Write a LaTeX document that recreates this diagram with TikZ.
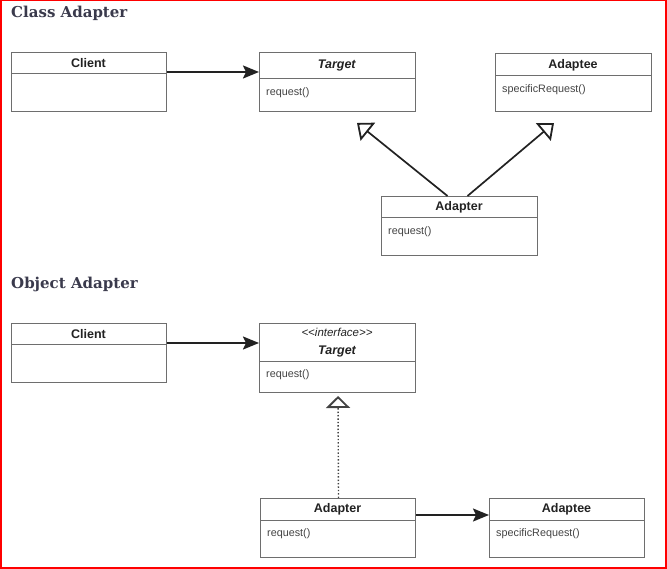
\documentclass[tikz,border=0pt]{standalone}
\usepackage{fontspec}
\setmainfont{Liberation Sans}
\newfontfamily\titlefont{DejaVu Serif}
\usetikzlibrary{arrows.meta}
\definecolor{boxgray}{HTML}{6E6E6E}
\definecolor{titlecol}{HTML}{3A3A4C}
\definecolor{ink}{HTML}{222222}
\tikzset{
  umlbox/.style={draw=boxgray, line width=1pt, rectangle, inner sep=0pt, anchor=north west},
  divider/.style={draw=boxgray, line width=1pt},
  headtext/.style={font=\fontsize{12.5}{14}\selectfont\bfseries, text=ink, inner sep=0pt},
  bodytext/.style={font=\fontsize{10.8}{12}\selectfont, text=ink!85, inner sep=0pt, anchor=west},
  titletext/.style={font=\titlefont\fontsize{15}{17}\selectfont\bfseries, text=titlecol, inner sep=0pt, anchor=base west},
  assoc/.style={draw=ink, line width=2pt, -{Stealth[length=16pt,width=13pt,inset=3pt]}},
  inherit/.style={draw=ink, line width=1.7pt, -{Triangle[open,length=14pt,width=23pt,fill=white,line width=1.8pt]}},
  realize/.style={draw=ink!85, line width=1.4pt, dash pattern=on 1.4pt off 2pt, -{Triangle[open,length=12pt,width=24pt,fill=white,line width=1.8pt]}},
}
% name, x1, y1, x2, y2, divider y, header, body
\newcommand\umlclass[8]{%
  \node[umlbox, minimum width=#4pt-#2pt, minimum height=#5pt-#3pt] (#1) at (#2,#3) {};
  \draw[divider] (#2,#6) -- (#4,#6);
  \node[headtext] (#1-head) at ({(#2+#4)/2},{(#3+#6)/2+0.5}) {#7};
  \node[bodytext] (#1-body) at ({#2+7},{#6+13.5}) {#8};
}
\begin{document}
\begin{tikzpicture}[x=1pt,y=-1pt]
\useasboundingbox (0,0) rectangle (667,569);
\draw[red, line width=2pt] (1,0) -- (1,567.5) -- (666,567.5) -- (666,0) -- cycle;

% Class Adapter
\node[titletext] (t1) at (11,18) {Class Adapter};
\umlclass{client1}{11}{52}{166}{111}{74}{Client}{}
\umlclass{target1}{259}{52}{415}{111}{79}{\textit{Target}}{request()}
\umlclass{adaptee1}{495}{53}{651}{111}{76}{Adaptee}{specificRequest()}
\umlclass{adapter1}{381}{196}{537}{255}{218}{Adapter}{request()}
\coordinate (tipA) at (357,123);
\coordinate (tipB) at (554,123);
\draw[assoc] ([yshift=-20pt]client1.north east) -- ([yshift=-20pt]target1.north west);
\draw[inherit] ([xshift=-12pt]adapter1.north) -- (tipA);
\draw[inherit] ([xshift=8pt]adapter1.north) -- (tipB);

% Object Adapter
\node[titletext] (t2) at (11,289) {Object Adapter};
\umlclass{client2}{11}{323}{166}{382}{345}{Client}{}
\node[umlbox, minimum width=156pt, minimum height=69pt] (target2) at (259,323) {};
\draw[divider] (259,362) -- (415,362);
\node[headtext, font=\fontsize{12.5}{14}\selectfont\bfseries\itshape, align=center] (target2-head) at (337,342.5) {\fontsize{11.5}{14}\selectfont\mdseries\itshape {<}{<}interface{>}{>}\\[4pt]Target};
\node[bodytext] (target2-body) at (266,374.5) {request()};
\umlclass{adapter2}{260}{498}{415}{557}{520}{Adapter}{request()}
\umlclass{adaptee2}{489}{498}{644}{557}{520}{Adaptee}{specificRequest()}
\coordinate (tipC) at (338,396);
\draw[realize] ([xshift=0.5pt]adapter2.north) -- (tipC);
\draw[assoc] ([yshift=-20pt]client2.north east) -- ([yshift=-20pt]target2.north west);
\draw[assoc] ([yshift=-17pt]adapter2.north east) -- ([yshift=-17pt]adaptee2.north west);
\end{tikzpicture}
\end{document}
